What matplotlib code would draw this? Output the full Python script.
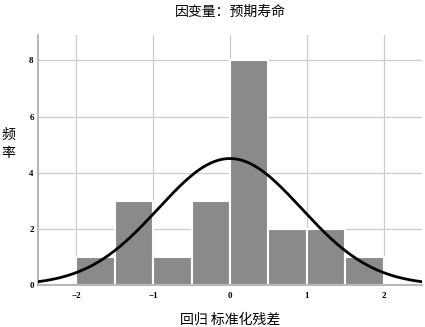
import numpy as np
import matplotlib
matplotlib.use('Agg')
import matplotlib.pyplot as plt

plt.rcParams['font.family'] = ['Noto Sans CJK SC', 'DejaVu Sans']

# histogram of standardized residuals (bin edges, counts)
bin_edges = [-2.0, -1.5, -1.0, -0.5, 0.0, 0.5, 1.0, 1.5, 2.0]
counts = [1, 3, 1, 3, 8, 2, 2, 1]
n_obs = 21
res_mean = 0.0
res_sd = 0.93

title = '因变量：预期寿命'
xlab = '回归 标准化残差'
ylab = '频\n率'

fig = plt.figure(figsize=(4.25, 3.27), dpi=100)
ax = fig.add_axes([0.089, 0.128, 0.904, 0.765])

widths = np.diff(bin_edges)
ax.bar(bin_edges[:-1], counts, width=widths, align='edge', color='#8a8a8a',
       edgecolor='white', linewidth=1.5, zorder=2)

# normal curve scaled to counts
xs = np.linspace(-2.5, 2.5, 300)
bw = widths[0]
ys = n_obs * bw / (res_sd * np.sqrt(2 * np.pi)) * np.exp(-0.5 * ((xs - res_mean) / res_sd) ** 2)
ax.plot(xs, ys, color='black', linewidth=2, zorder=3)

ax.set_xlim(-2.5, 2.5)
ax.set_ylim(0, 8.9)
ax.set_xticks([-2, -1, 0, 1, 2])
ax.set_yticks([0, 2, 4, 6, 8])
ax.grid(True, color='#cccccc', linewidth=0.9, zorder=0)
ax.set_axisbelow(True)
for s in ['top', 'right']:
    ax.spines[s].set_visible(False)
for s in ['left', 'bottom']:
    ax.spines[s].set_color('#aaaaaa')
    ax.spines[s].set_linewidth(1.2)
ax.tick_params(axis='x', length=0, labelsize=6.5, pad=5)
ax.tick_params(axis='y', length=0, labelsize=6.5, pad=3)
for lbl in ax.get_xticklabels() + ax.get_yticklabels():
    lbl.set_fontfamily(['Liberation Serif', 'DejaVu Serif'])
    lbl.set_fontweight('bold')

fig.text(0.541, 0.963, title, ha='center', va='center', fontsize=10)
fig.text(0.541, 0.021, xlab, ha='center', va='center', fontsize=10)
fig.text(0.02, 0.56, ylab, ha='center', va='center', fontsize=10, linespacing=1.45)

fig.savefig('out.png', dpi=100)
